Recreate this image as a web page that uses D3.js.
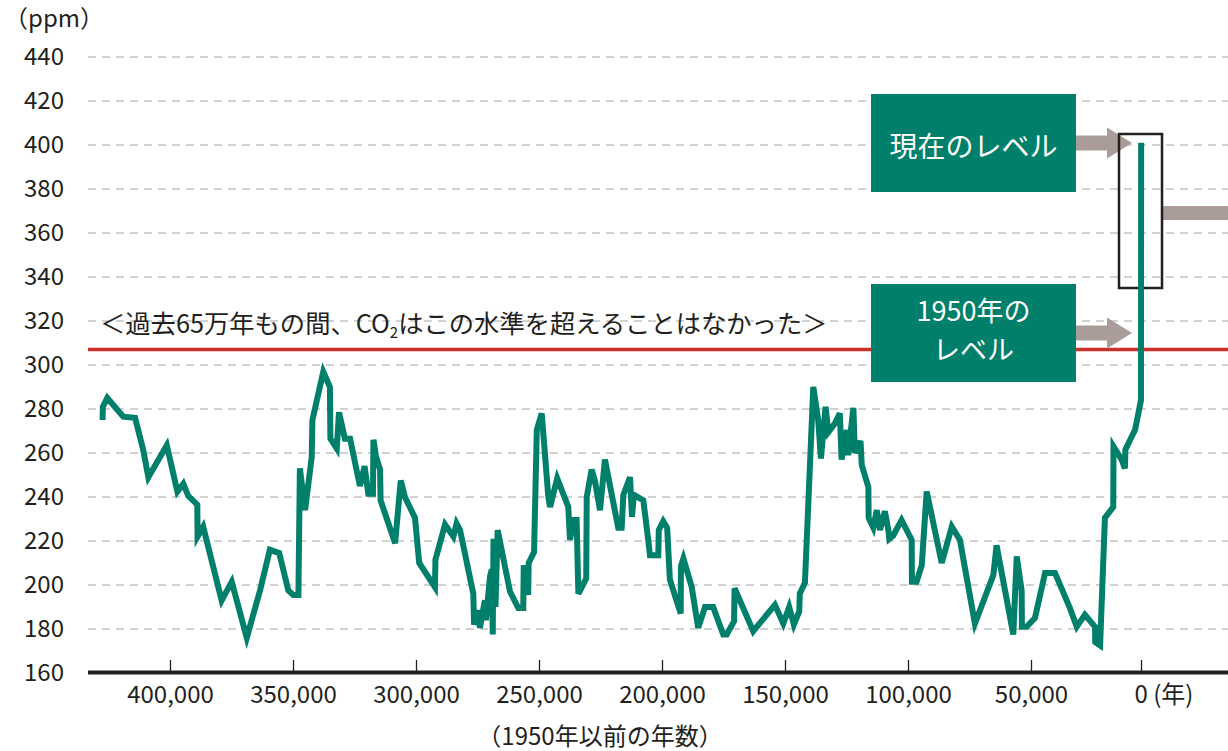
<!DOCTYPE html>
<html>
<head>
<meta charset="utf-8">
<script src="https://cdn.jsdelivr.net/npm/d3@7"></script>
<style>
  body{margin:0;background:#fff;}
  svg{display:block;font-family:"Noto Sans CJK JP","Noto Sans",sans-serif;}
</style>
</head>
<body>
<div id="chart"></div>
<script>
// [years before 1950, CO2 ppm]
const co2Samples = [
  [427400,275],[427300,281],[425500,285],[419000,276.5],[414200,276],[410900,261.5],[408800,249],
  [401300,263.5],[397000,242.5],[394600,246],[392600,240.5],[388900,236.5],[388800,222],[386500,226.5],
  [379000,193],[374900,201.5],[368800,176],[363400,197.5],[359400,216],[355600,214.5],[351900,197.5],
  [349900,195.5],[347800,195.5],[347200,253],[345100,234],[342400,258],[342100,275],[337700,297],
  [335000,290],[334800,266.5],[332200,262],[331300,278.5],[328900,266.5],[326800,266.5],[322800,245],
  [320900,254],[319400,241.5],[317500,241.5],[317300,266],[316300,258.5],[314600,252.5],[314400,238.5],
  [308500,219],[306200,247.5],[304500,240],[300400,230.5],[298700,210],[292300,199],[292100,211.5],
  [288200,227.5],[284800,222],[283500,228],[282100,225],[276700,196],[276400,182],[274700,188.5],
  [274000,180.5],[272000,193],[271600,184],[269900,204],[269200,207],[268800,177.5],[268500,221],
  [267700,190],[266800,225],[261800,197],[258400,189.5],[256400,189.5],[256200,209],[254400,195.5],
  [254200,210],[252000,215],[250900,270.5],[248900,278],[246200,240],[245500,235.5],[242600,248.5],
  [238100,235.5],[237400,220.5],[236100,229.5],[234700,229.5],[234000,196],[230800,203],[230600,240],
  [228600,252.5],[227300,247.5],[225200,234],[223200,257],[217800,226],[216400,226],[215700,241],
  [213000,249],[212200,231],[211400,241],[207600,238.5],[205600,220.5],[204900,213.5],[201500,213.5],
  [201300,225],[199500,229],[197900,226],[196800,202.5],[192400,187],[192300,208.5],[191300,212],
  [187900,199],[185300,180.5],[182500,190],[179200,190],[175100,177.5],[173700,177.5],[170700,183.5],
  [170500,198.5],[162900,179],[154100,191],[150700,182.5],[148300,190],[146400,182],[144200,188],
  [144000,196],[141900,201],[138500,290],[136500,275],[135400,257.5],[133500,281],[132400,269.5],
  [129700,273.5],[127700,278],[127000,257],[124900,270.5],[124300,259],[122200,280.5],[121600,260],
  [119300,265.5],[118800,254.5],[116100,244.5],[116000,230.5],[114100,226],[112700,234],[111400,225],
  [109400,233.5],[108000,225],[107600,221],[106000,222.5],[102600,229.5],[98500,220.5],[98400,201.5],
  [96500,201.5],[94400,209],[92400,242.5],[86300,210],[82200,226.5],[78900,220.5],[72800,182.5],
  [65300,204.5],[64000,218],[57200,177.5],[55800,213],[53800,197.5],[53700,181],[51800,181],
  [48200,185],[43600,205.5],[39100,205.5],[32300,189.5],[29200,181],[25500,186.5],[20900,181],
  [20800,174],[18600,172.5],[16400,230.5],[12600,235.5],[12500,263],[8800,257],[7300,253],
  [7100,261.5],[2700,270.5],[0,284],[-60,401]
];
const ppmTicks = d3.range(160, 441, 20);
const yearTicks = [400000,350000,300000,250000,200000,150000,100000,50000,0];
const level1950 = 307;
const presentBox = [335, 405];

const unitLabel = "（ppm）";
const xTitle = "（1950年以前の年数）";
const yearSuffix = " (年)";
const noteText = ["＜過去65万年もの間、CO", "2", "はこの水準を超えることはなかった＞"];
const presentLabel = "現在のレベル";
const label1950 = ["1950年の", "レベル"];

const W = 1228, H = 751;
const green = "#00806a", ink = "#231f20", arrowCol = "#aa9d99";

const x = d3.scaleLinear().domain([400000, 50000, 0]).range([170, 1031, 1141]);
const y = d3.scaleLinear().domain([160, 440]).range([673, 57]);

const svg = d3.select("#chart").append("svg")
  .attr("width", W).attr("height", H);
svg.append("rect").attr("width", W).attr("height", H).attr("fill", "#fff");

// dashed grid
svg.append("g").selectAll("line")
  .data(ppmTicks.filter(d => d > 160))
  .join("line")
  .attr("x1", 88).attr("x2", W)
  .attr("y1", d => y(d)).attr("y2", d => y(d))
  .attr("stroke", "#c4c4c4").attr("stroke-width", 1.6)
  .attr("stroke-dasharray", "8,6");

// y axis labels
const yAxis = svg.append("g")
  .attr("transform", "translate(88,0)")
  .call(d3.axisLeft(y).tickValues(ppmTicks).tickSize(0).tickPadding(24));
yAxis.select(".domain").remove();
yAxis.attr("font-family", null);
yAxis.selectAll("text").attr("font-size", 24).attr("fill", ink);

svg.append("text").attr("x", 4).attr("y", 27)
  .attr("font-size", 24).attr("fill", ink).text(unitLabel);

// 1950 reference line
svg.append("line")
  .attr("x1", 88).attr("x2", W)
  .attr("y1", y(level1950)).attr("y2", y(level1950))
  .attr("stroke", "#c8302b").attr("stroke-width", 3.5);

const note = svg.append("text")
  .attr("x", 100).attr("y", y(level1950) - 17)
  .attr("font-size", 25.3).attr("fill", ink);
note.append("tspan").text(noteText[0]);
note.append("tspan").attr("font-size", 15).attr("dy", 5).text(noteText[1]);
note.append("tspan").attr("dy", -5).text(noteText[2]);

// label boxes
const boxX = 871, boxW = 205, boxH = 98;
svg.append("rect").attr("x", boxX).attr("y", 94).attr("width", boxW).attr("height", boxH).attr("fill", green);
svg.append("text").attr("x", boxX + boxW / 2).attr("y", 157)
  .attr("text-anchor", "middle").attr("font-size", 28).attr("fill", "#fff")
  .text(presentLabel);

svg.append("rect").attr("x", boxX).attr("y", 284).attr("width", boxW).attr("height", boxH).attr("fill", green);
svg.append("g").selectAll("text")
  .data(label1950).join("text")
  .attr("x", boxX + boxW / 2)
  .attr("y", (d, i) => 320.5 + i * 39.3)
  .attr("text-anchor", "middle").attr("font-size", 27).attr("fill", "#fff")
  .text(d => d);

// arrows
function arrow(x0, tip, cy){
  const hw = 7.5, hh = 15.5, head = 25;
  return `M${x0},${cy-hw}L${tip-head},${cy-hw}L${tip-head},${cy-hh}L${tip},${cy}` +
         `L${tip-head},${cy+hh}L${tip-head},${cy+hw}L${x0},${cy+hw}Z`;
}
svg.append("path").attr("d", arrow(boxX + boxW, 1132, 143)).attr("fill", arrowCol);
svg.append("path").attr("d", arrow(boxX + boxW, 1132, 333)).attr("fill", arrowCol);

// present range box
const bx0 = x(0) - 22, bx1 = x(0) + 21;
svg.append("rect").attr("x", bx1).attr("y", 206).attr("width", W - bx1).attr("height", 14).attr("fill", arrowCol);
svg.append("rect")
  .attr("x", bx0).attr("y", y(presentBox[1]))
  .attr("width", bx1 - bx0).attr("height", y(presentBox[0]) - y(presentBox[1]))
  .attr("fill", "none").attr("stroke", ink).attr("stroke-width", 2.5);

// CO2 curve
const line = d3.line().x(d => x(d[0])).y(d => y(d[1]));
svg.append("path")
  .datum(co2Samples)
  .attr("fill", "none").attr("stroke", green)
  .attr("stroke-width", 6).attr("stroke-linejoin", "miter")
  .attr("d", line);

// x axis
const xAxis = svg.append("g")
  .attr("transform", "translate(0,672)")
  .call(d3.axisBottom(x).tickValues(yearTicks).tickSize(-12).tickPadding(14).tickFormat(d3.format(",")));
xAxis.select(".domain").remove();
xAxis.attr("font-family", null);
xAxis.selectAll("line").attr("stroke", ink).attr("stroke-width", 1.3);
xAxis.selectAll("text").attr("font-size", 24).attr("fill", ink);
xAxis.selectAll(".tick").filter(d => d === 0).select("text")
  .attr("text-anchor", "start").attr("x", -7)
  .append("tspan").text(yearSuffix);
svg.append("line")
  .attr("x1", 88).attr("x2", W).attr("y1", 672.5).attr("y2", 672.5)
  .attr("stroke", ink).attr("stroke-width", 4);

svg.append("text")
  .attr("x", 600).attr("y", 745)
  .attr("text-anchor", "middle").attr("font-size", 24).attr("fill", ink)
  .text(xTitle);
</script>
</body>
</html>
